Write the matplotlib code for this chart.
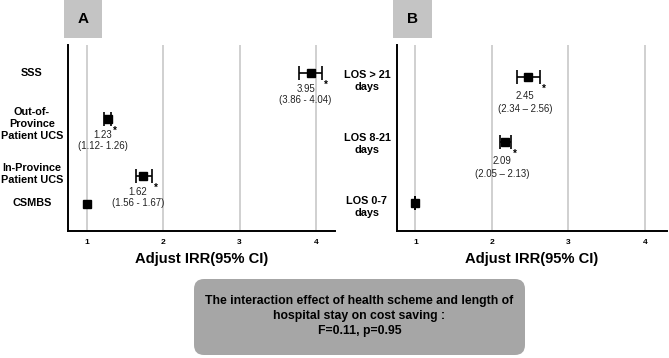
import matplotlib
matplotlib.use("Agg")
import matplotlib.pyplot as plt
from matplotlib.patches import FancyBboxPatch, Rectangle
from matplotlib.transforms import blended_transform_factory

plt.rcParams['font.family'] = ['Liberation Sans', 'DejaVu Sans']

# ---------------- data ----------------
# Panel A: health scheme
a_categories = ["SSS", "Out-of-\nProvince\nPatient UCS", "In-Province\nPatient UCS", "CSMBS"]
a_est = [3.93, 1.27, 1.73, 1.00]          # plotted point estimates
a_lo = [3.78, 1.22, 1.64, None]
a_hi = [4.08, 1.31, 1.85, None]
a_value_labels = ["3.95", "1.23", "1.62", None]
a_ci_labels = ["(3.86 - 4.04)", "(1.12- 1.26)", "(1.56 - 1.67)", None]

# Panel B: length of stay
b_categories = ["LOS > 21\ndays", "LOS 8-21\ndays", "LOS 0-7\ndays"]
b_est = [2.47, 2.17, 1.00]
b_lo = [2.33, 2.11, 1.00]
b_hi = [2.63, 2.25, 1.00]
b_value_labels = ["2.45", "2.09", None]
b_ci_labels = ["(2.34 \u2013 2.56)", "(2.05 \u2013 2.13)", None]

x_ticks = [1, 2, 3, 4]
x_label = "Adjust IRR(95% CI)"
panel_letters = ["A", "B"]
note_text = ("The interaction effect of health scheme and length of\n"
             "hospital stay on cost saving :\nF=0.11, p=0.95")

# ---------------- layout ----------------
W, H = 669, 358
fig = plt.figure(figsize=(W / 100, H / 100), dpi=100)
fig.patch.set_facecolor("white")

def fx(px):
    return px / W

def fy(py):
    return 1 - py / H

AX_TOP, AX_BOT = 45, 231
a_ypos = [158, 112, 55, 27]
a_label_ypos = [158, 107, 57, 28]
b_ypos = [154, 89, 28]
b_label_ypos = [150, 87, 24]


def make_axes(left_px, right_px, xlim):
    ax = fig.add_axes([fx(left_px), fy(AX_BOT), (right_px - left_px) / W, (AX_BOT - AX_TOP) / H])
    ax.set_xlim(*xlim)
    ax.set_ylim(0, AX_BOT - AX_TOP)
    for s in ["top", "right"]:
        ax.spines[s].set_visible(False)
    for s in ["left", "bottom"]:
        ax.spines[s].set_linewidth(1.4)
        ax.spines[s].set_color("black")
    ax.set_yticks([])
    ax.set_xticks(x_ticks)
    ax.set_xticklabels([str(t) for t in x_ticks], fontsize=6, fontweight="bold")
    ax.tick_params(axis="x", length=0, pad=6)
    for t in x_ticks:
        ax.axvline(t, color="#c8c8c8", lw=1.2, zorder=0)
    ax.set_xlabel(x_label, fontsize=10.6, fontweight="bold", labelpad=4)
    return ax


def draw_points(ax, est, lo, hi, ypos, vals, cis, dx, dval, dci):
    for e, l, h, y, v, c in zip(est, lo, hi, ypos, vals, cis):
        if l is not None:
            ax.errorbar([e], [y], xerr=[[e - l], [h - e]], fmt="none", ecolor="black",
                        elinewidth=1.2, capsize=4.8, capthick=1.2, zorder=3)
        ax.plot([e], [y], marker="s", color="black", markersize=5.3, zorder=4)
        if v is not None:
            ax.annotate(v, (e, y), xytext=(dx, dval), textcoords="offset pixels",
                        ha="center", va="center", fontsize=6.9, color="#222222")
            ax.annotate(c, (e, y), xytext=(dx, dci), textcoords="offset pixels",
                        ha="center", va="center", fontsize=6.9, color="#222222")
            ax.annotate("*", (h, y), xytext=(4, -12), textcoords="offset pixels",
                        ha="center", va="center", fontsize=7, fontweight="bold")


def draw_labels(ax, cats, label_y, center_px, left_px, right_px):
    tr = blended_transform_factory(ax.transAxes, ax.transData)
    xa = (center_px - left_px) / (right_px - left_px)
    for cat, y in zip(cats, label_y):
        ax.text(xa, y, cat, transform=tr, ha="center", va="center", multialignment="center",
                fontsize=7.8, fontweight="bold", linespacing=1.25)


# Panel A
A_L, A_R = 68, 335
axA = make_axes(A_L, A_R, (0.75, 4.25))
draw_points(axA, a_est, a_lo, a_hi, a_ypos, a_value_labels, a_ci_labels, -5, -16, -27)
draw_labels(axA, a_categories, a_label_ypos, 32, A_L, A_R)

# Panel B
B_L, B_R = 397, 667
axB = make_axes(B_L, B_R, (0.76, 4.29))
draw_points(axB, b_est, b_lo, b_hi, b_ypos, b_value_labels, b_ci_labels, -3, -19, -32)
draw_labels(axB, b_categories, b_label_ypos, 367, B_L, B_R)

# Panel letter boxes
for letter, (x0, x1) in zip(panel_letters, [(64, 102), (393, 432)]):
    fig.patches.append(Rectangle((fx(x0), fy(38)), (x1 - x0) / W, 38 / H,
                                 transform=fig.transFigure, facecolor="#c4c4c4",
                                 edgecolor="none"))
    fig.text(fx((x0 + x1) / 2), fy(19), letter, ha="center", va="center",
             fontsize=11, fontweight="bold")

# Note box
bx0, bx1, by0, by1 = 194, 525, 279, 355
r = 10
fig.patches.append(FancyBboxPatch((fx(bx0 + r), fy(by1 - r)), (bx1 - bx0 - 2 * r) / W,
                                  (by1 - by0 - 2 * r) / H,
                                  boxstyle=f"round,pad={r / W}",
                                  transform=fig.transFigure, facecolor="#a6a6a6",
                                  edgecolor="none", mutation_aspect=W / H))
fig.text(fx((bx0 + bx1) / 2), fy(316), note_text, ha="center", va="center",
         multialignment="center", fontsize=8.8, fontweight="bold", linespacing=1.3)

fig.savefig("out.png", dpi=100, facecolor="white")
